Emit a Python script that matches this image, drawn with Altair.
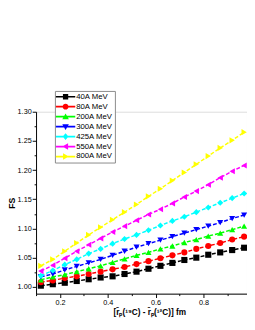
import altair as alt
import pandas as pd

# x positions of the computed points
x_vals = [0.12, 0.17, 0.22, 0.27, 0.32, 0.37, 0.42, 0.47, 0.52,
          0.57, 0.62, 0.67, 0.72, 0.77, 0.82, 0.87, 0.92, 0.97]

series = ["40A MeV", "80A MeV", "200A MeV", "300A MeV", "425A MeV", "550A MeV", "800A MeV"]

fs_40 = [1.002, 1.0045, 1.007, 1.010, 1.013, 1.016, 1.018, 1.022, 1.026,
         1.031, 1.036, 1.041, 1.046, 1.050, 1.055, 1.059, 1.063, 1.067]
fs_80 = [1.008, 1.011, 1.015, 1.018, 1.022, 1.026, 1.030, 1.034, 1.039,
         1.044, 1.049, 1.054, 1.059, 1.065, 1.070, 1.075, 1.081, 1.086]
fs_200 = [1.012, 1.017, 1.021, 1.026, 1.031, 1.036, 1.042, 1.048, 1.054,
          1.059, 1.065, 1.070, 1.076, 1.081, 1.087, 1.092, 1.098, 1.104]
fs_300 = [1.017, 1.022, 1.029, 1.035, 1.041, 1.047, 1.054, 1.061, 1.068,
          1.074, 1.080, 1.086, 1.092, 1.098, 1.104, 1.110, 1.117, 1.123]
fs_425 = [1.019, 1.028, 1.038, 1.047, 1.057, 1.065, 1.074, 1.082, 1.089,
          1.097, 1.105, 1.113, 1.120, 1.128, 1.136, 1.144, 1.152, 1.160]
fs_550 = [1.027, 1.037, 1.049, 1.061, 1.072, 1.083, 1.094, 1.104, 1.114,
          1.124, 1.133, 1.143, 1.154, 1.164, 1.175, 1.187, 1.198, 1.208]
fs_800 = [1.036, 1.047, 1.061, 1.075, 1.089, 1.102, 1.115, 1.128, 1.141,
          1.155, 1.168, 1.182, 1.196, 1.210, 1.224, 1.238, 1.251, 1.265]

all_fs = [fs_40, fs_80, fs_200, fs_300, fs_425, fs_550, fs_800]

colors = ["#000000", "#FF0000", "#00FF00", "#0000FF", "#00FFFF", "#FF00FF", "#FFFF00"]
marker_shapes = ["square", "circle", "triangle-up", "triangle-down", "diamond",
                 "triangle-left", "triangle-right"]

x_major = [0.2, 0.4, 0.6, 0.8]
x_minor = [0.1, 0.3, 0.5, 0.7, 0.9]
y_major = [1.00, 1.05, 1.10, 1.15, 1.20, 1.25, 1.30]
y_minor = [1.025, 1.075, 1.125, 1.175, 1.225, 1.275]

x_title = "[r\u0304\u209a(\u00b9\u2079C) - r\u0304\u209a(\u00b9\u00b2C)] fm"
y_title = "FS"

rows = []
for s, vals in zip(series, all_fs):
    for xv, yv in zip(x_vals, vals):
        rows.append({"x": xv, "fs": yv, "series": s})
df = pd.DataFrame(rows)

FONT = "Liberation Sans"

xscale = alt.Scale(domain=[0.1, 0.982], nice=False, zero=False)
yscale = alt.Scale(domain=[0.9883, 1.30], nice=False, zero=False)
cscale = alt.Scale(domain=series, range=colors)

# legend symbols: a line segment with the marker in the middle (custom paths)
L = "M-2.5,-0.22H2.5V0.22H-2.5Z"
legend_paths = [
    L + "M-0.68,-0.68H0.68V0.68H-0.68Z",
    L + "M-0.75,0A0.75,0.75,0,1,1,0.75,0A0.75,0.75,0,1,1,-0.75,0Z",
    L + "M0,-0.85L0.85,0.65L-0.85,0.65Z",
    L + "M0,0.85L-0.85,-0.65L0.85,-0.65Z",
    L + "M0,-0.9L0.75,0L0,0.9L-0.75,0Z",
    L + "M-0.85,0L0.65,-0.85L0.65,0.85Z",
    L + "M0.85,0L-0.65,0.85L-0.65,-0.85Z",
]

axis_common = dict(
    grid=False, domainColor="black", tickColor="black", labelColor="black",
    titleColor="black", labelFont=FONT, titleFont=FONT, labelFontSize=7.5,
    titleFontWeight="bold", domainWidth=1, tickWidth=1,
)

x_axis_major = alt.Axis(values=x_major, format=".1f", tickSize=4, labelPadding=1,
                        title=x_title, titleFontSize=8.5, titlePadding=2,
                        titleX=117, orient="bottom", **axis_common)
y_axis_major = alt.Axis(values=y_major, format=".2f", tickSize=4, labelPadding=1,
                        title=y_title, titleFontSize=9, titlePadding=1,
                        orient="left", **axis_common)
x_axis_minor = alt.Axis(values=x_minor, tickSize=2, labels=False, domain=False,
                        title=None, grid=False, tickColor="black", orient="bottom")
y_axis_minor = alt.Axis(values=y_minor, tickSize=2, labels=False, domain=False,
                        title=None, grid=False, tickColor="black", orient="left")

layers = []
first = True
for s, shp, col in zip(series, marker_shapes, colors):
    base = alt.Chart(df).transform_filter(alt.datum.series == s)
    layers.append(
        base.mark_line(strokeDash=[4, 2], strokeWidth=1.5, color=col).encode(
            x=alt.X("x:Q", scale=xscale, axis=x_axis_major if first else None),
            y=alt.Y("fs:Q", scale=yscale, axis=y_axis_major if first else None),
            order="x:Q",
        )
    )
    layers.append(
        base.mark_point(shape=shp, filled=True, size=40, opacity=1, color=col).encode(
            x=alt.X("x:Q", scale=xscale, axis=None),
            y=alt.Y("fs:Q", scale=yscale, axis=None),
        )
    )
    first = False

leg = alt.Legend(
    title=None, orient="none", legendX=19.5, legendY=-21.5,
    symbolSize=64, symbolOffset=5, labelOffset=7, symbolOpacity=1,
    symbolStrokeWidth=0, labelFont=FONT, labelFontSize=8, labelColor="black",
    rowPadding=2.3, padding=2, strokeColor="#888888", fillColor="white",
    cornerRadius=0,
)

legend_layer = alt.Chart(df).mark_point(filled=True, size=0).encode(
    x=alt.X("x:Q", scale=xscale, axis=x_axis_minor),
    y=alt.Y("fs:Q", scale=yscale, axis=y_axis_minor),
    color=alt.Color("series:N", scale=cscale, legend=leg, sort=series),
    shape=alt.Shape("series:N", scale=alt.Scale(domain=series, range=legend_paths),
                    legend=leg, sort=series),
)

chart = alt.layer(*layers, legend_layer).resolve_axis(
    x="independent", y="independent"
).properties(
    width=218, height=188,
    autosize=alt.AutoSizeParams(type="none"),
    padding={"left": 29, "top": 102, "right": 0, "bottom": 22},
).configure_view(stroke=None).configure(background="white").configure_axis(
    domainColor="black", tickColor="black"
)

chart.save("out.html", embed_options={"renderer": "svg", "actions": False})
